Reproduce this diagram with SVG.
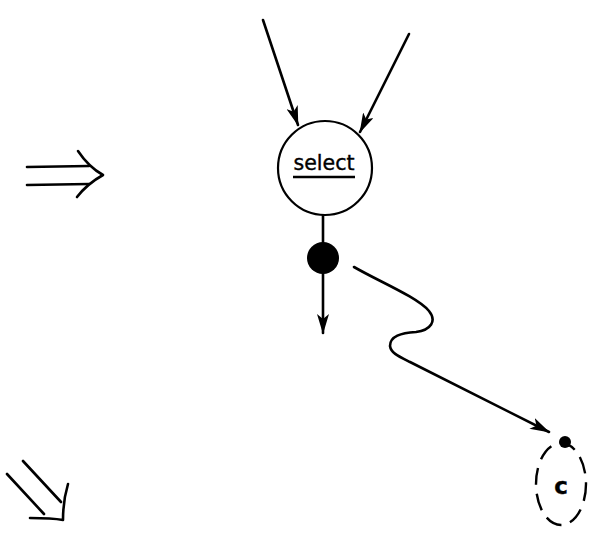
<svg xmlns="http://www.w3.org/2000/svg" width="589" height="539" viewBox="0 0 589 539">
<style>
.ln{fill:none;stroke:#000;stroke-width:2.6;stroke-linecap:round;stroke-linejoin:round}
.node{fill:#fff;stroke:#000;stroke-width:2.2}
.lbl{font-family:"DejaVu Sans",sans-serif;fill:#000;stroke:#000;stroke-width:0.4}
</style>
<defs>
<marker id="ah" viewBox="0 0 20 12" refX="19" refY="6" markerWidth="20" markerHeight="12" markerUnits="userSpaceOnUse" orient="auto">
<path d="M0,0 L20,6 L0,12 L5,6 Z" fill="#000"/>
</marker>
</defs>
<rect width="589" height="539" fill="#fff"/>
<g id="connectors">
<path class="ln" d="M263,20 L298,125" marker-end="url(#ah)"/>
<path class="ln" d="M409,34 L360,132" marker-end="url(#ah)"/>
<path class="ln" d="M323,215 L323,244"/>
<path class="ln" d="M323,272 L323,333" marker-end="url(#ah)"/>
<path class="ln" d="M354,267 C380,282 417,297 429,311 C437,321 431,330 416,332 C401,333 390,336 390,346 C391,353 398,356 410,362 L549,432" marker-end="url(#ah)"/>
</g>
<g id="node-select">
<circle class="node" cx="325" cy="168" r="47"/>
<text class="lbl" x="324" y="170" font-size="21.5" text-anchor="middle" textLength="61" lengthAdjust="spacingAndGlyphs">select</text>
<line x1="293" y1="177" x2="355" y2="177" stroke="#000" stroke-width="2.4"/>
</g>
<g id="node-dot">
<circle cx="323" cy="258" r="16" fill="#000"/>
</g>
<g id="node-c">
<ellipse cx="561" cy="484" rx="25" ry="41" fill="none" stroke="#000" stroke-width="2.4" stroke-dasharray="17 9"/>
<circle cx="565" cy="442" r="6" fill="#000"/>
<text class="lbl" x="561" y="494" font-size="23" font-weight="bold" text-anchor="middle">c</text>
</g>
<g id="arrow-right">
<path class="ln" d="M27,167 L89,166 M27,185 L89,184" stroke-width="3.2"/>
<path class="ln" d="M78,151 C86,163 94,170 103,175 C94,180 84,188 77,197" stroke-width="3.2"/>
</g>
<g id="arrow-down-right">
<path class="ln" d="M23,461 L61,502 M7,474 L44,514" stroke-width="3.2"/>
<path class="ln" d="M68,484 C65,494 63,506 63,520 C52,518 40,518 30,518" stroke-width="3.2"/>
</g>
</svg>
